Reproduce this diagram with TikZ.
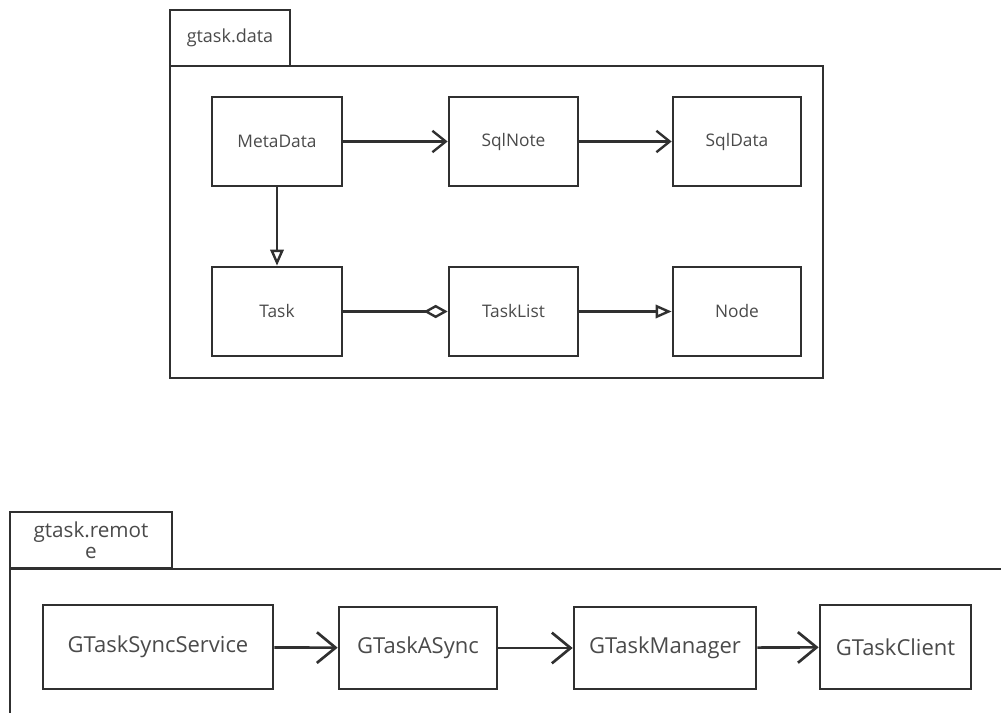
\documentclass[tikz,border=0pt]{standalone}
\usepackage{fontspec}
\setmainfont{Open Sans}
\usetikzlibrary{arrows.meta}
\definecolor{ink}{HTML}{303030}
\definecolor{txt}{HTML}{4A4A4A}
\begin{document}
\begin{tikzpicture}[x=0.75pt,y=-0.75pt,
  line width=2pt, draw=ink,
  box/.style={draw=ink, line width=2pt, inner sep=0pt, text=txt, font=\fontsize{13}{15}\selectfont},
  bigbox/.style={box, font=\fontsize{16.5}{19}\selectfont},
  tab/.style={draw=ink, line width=2pt, inner sep=0pt, text=txt, align=center},
  open/.style={-{Straight Barb[length=10pt,width=16pt,line width=1.8pt]}},
  openbig/.style={-{Straight Barb[length=14pt,width=23pt,line width=2pt]}},
  inherit/.style={-{Triangle[open,length=12pt,width=10pt,line width=1.8pt]}},
  aggr/.style={-{Diamond[open,length=18pt,width=10pt,line width=1.8pt]}}
]
\useasboundingbox (0,0) rectangle (1001,713);

% ---- gtask.data package
\node[tab, minimum width=90pt, minimum height=42pt, font=\fontsize{13.5}{15}\selectfont] (tabdata) at (230,38) {gtask.data};
\node[draw=ink, line width=2pt, minimum width=489.75pt, minimum height=234pt, inner sep=0pt] (framedata) at (496.5,222) {};

\node[box, minimum width=97.5pt, minimum height=66.75pt] (meta) at (277,141.5) {MetaData};
\node[box, minimum width=96.75pt, minimum height=66.75pt] (sqlnote) at (513.5,141.5) {SqlNote};
\node[box, minimum width=96pt, minimum height=66.75pt] (sqldata) at (737,141.5) {SqlData};
\node[box, minimum width=97.5pt, minimum height=66.75pt] (task) at (277,311.5) {Task};
\node[box, minimum width=96.75pt, minimum height=66.75pt] (tasklist) at (513.5,311.5) {TaskList};
\node[box, minimum width=96pt, minimum height=66.75pt] (node) at (737,311.5) {Node};

\draw[open] (meta) -- (sqlnote);
\draw[open] (sqlnote) -- (sqldata);
\draw[inherit] (meta) -- (task);
\draw[aggr] (task) -- (tasklist);
\draw[inherit] (tasklist) -- (node);

% ---- gtask.remote package
\node[tab, minimum width=121.5pt, minimum height=42pt, font=\fontsize{15.5}{16}\selectfont] (tabremote) at (91,540) {gtask.remot\\e};
\coordinate (rtop) at (10,569);
\coordinate (rright) at (1001,569);
\coordinate (rbottom) at (10,713);
\draw (rright) -- (rtop) -- (rbottom);

\node[bigbox, minimum width=172.5pt, minimum height=63pt] (sync) at (158,647) {GTaskSyncService};
\node[bigbox, minimum width=118.5pt, minimum height=61.5pt] (async) at (418,648) {GTaskASync};
\node[bigbox, minimum width=136.5pt, minimum height=61.5pt] (manager) at (665,648) {GTaskManager};
\node[bigbox, minimum width=113.25pt, minimum height=63pt] (client) at (895.5,647) {GTaskClient};

\draw[openbig] (sync) -- (async);
\draw[openbig] (async) -- (manager);
\draw[openbig] (manager) -- (client);
\end{tikzpicture}
\end{document}
